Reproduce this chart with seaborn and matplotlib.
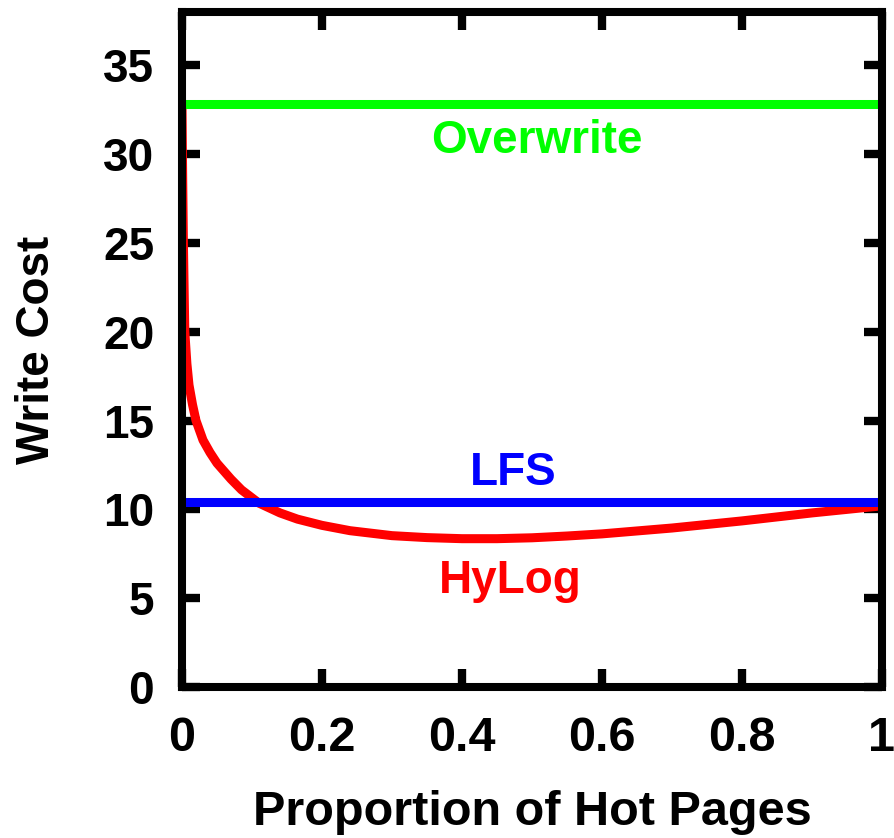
import matplotlib
matplotlib.use("Agg")
import matplotlib.pyplot as plt
import seaborn as sns
import pandas as pd

# Data
hot_fraction = [0.0, 0.0005, 0.001, 0.002, 0.004, 0.007, 0.01, 0.015, 0.02, 0.03, 0.04,
                0.05, 0.07, 0.085, 0.11, 0.14, 0.165, 0.2, 0.24, 0.3, 0.35, 0.4, 0.45,
                0.5, 0.55, 0.6, 0.7, 0.8, 0.9, 1.0]
hylog_cost = [32.8, 30.5, 28.5, 25.0, 20.0, 18.2, 17.0, 15.9, 15.0, 13.9, 13.2,
              12.6, 11.7, 11.1, 10.35, 9.8, 9.45, 9.1, 8.8, 8.52, 8.41, 8.35, 8.35,
              8.4, 8.5, 8.62, 8.95, 9.35, 9.8, 10.2]
lfs_cost = 10.4
overwrite_cost = 32.8
x_ticks = [0, 0.2, 0.4, 0.6, 0.8, 1.0]
x_tick_labels = ["0", "0.2", "0.4", "0.6", "0.8", "1"]
y_ticks = [0, 5, 10, 15, 20, 25, 30, 35]

sns.set_theme(style="ticks")
plt.rcParams["font.family"] = ["Liberation Sans", "DejaVu Sans"]
plt.rcParams["font.weight"] = "bold"
plt.rcParams["text.color"] = "black"
plt.rcParams["xtick.labelcolor"] = "black"
plt.rcParams["ytick.labelcolor"] = "black"
plt.rcParams["axes.labelcolor"] = "black"

fig = plt.figure(figsize=(8.95, 8.38), dpi=100)
ax = fig.add_axes([182 / 895, (838 - 687) / 838, 700 / 895, 675 / 838])

df_h = pd.DataFrame({"x": hot_fraction, "y": hylog_cost})
df_o = pd.DataFrame({"x": [0.0, 1.0], "y": [overwrite_cost] * 2})
df_l = pd.DataFrame({"x": [0.0, 1.0], "y": [lfs_cost] * 2})

sns.lineplot(data=df_h, x="x", y="y", ax=ax, color="#ff0000", linewidth=6.5,
             solid_capstyle="butt", solid_joinstyle="round", zorder=3)
sns.lineplot(data=df_o, x="x", y="y", ax=ax, color="#00ff00", linewidth=6.5,
             solid_capstyle="butt", zorder=4)
sns.lineplot(data=df_l, x="x", y="y", ax=ax, color="#0000ff", linewidth=6.5,
             solid_capstyle="butt", zorder=4)

ax.set_xlim(0, 1)
ax.set_ylim(0, 38)
ax.set_xticks(x_ticks)
ax.set_xticklabels(x_tick_labels)
ax.set_yticks(y_ticks)

for s in ax.spines.values():
    s.set_linewidth(5.8)
    s.set_color("black")
    s.set_zorder(5)

ax.tick_params(axis="both", direction="in", length=13, width=6, color="black",
               top=True, right=True, labelcolor="black")
ax.tick_params(axis="x", labelsize=35, pad=21)
ax.tick_params(axis="y", labelsize=33, pad=20)
for lab in ax.get_xticklabels() + ax.get_yticklabels():
    lab.set_fontweight("bold")

ax.set_xlabel("Proportion of Hot Pages", fontsize=35, fontweight="bold", color="black")
ax.set_ylabel("Write Cost", fontsize=33, fontweight="bold", color="black")
ax.xaxis.set_label_coords(0.5, -0.152)
ax.yaxis.set_label_coords(-0.176, 0.5)

ax.text(0.507, 30.08, "Overwrite", color="#00ff00", fontsize=33, fontweight="bold",
        ha="center", va="baseline")
ax.text(0.473, 11.38, "LFS", color="#0000ff", fontsize=33, fontweight="bold",
        ha="center", va="baseline")
ax.text(0.469, 5.3, "HyLog", color="#ff0000", fontsize=33, fontweight="bold",
        ha="center", va="baseline")

fig.savefig("out.png", dpi=100, facecolor="white")
